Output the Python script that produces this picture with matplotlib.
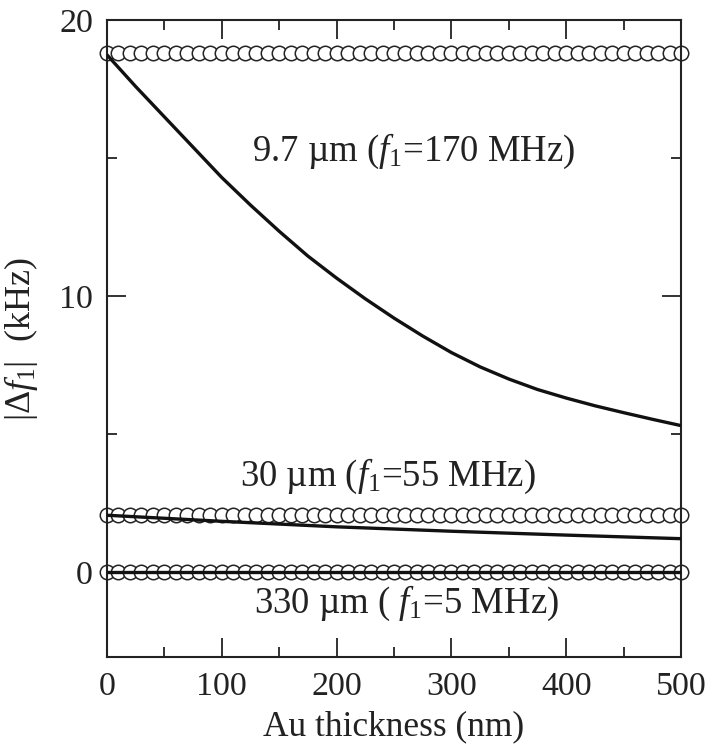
import numpy as np
import matplotlib
matplotlib.use("Agg")
import matplotlib.pyplot as plt
from matplotlib.ticker import MultipleLocator

plt.rcParams['font.family'] = ['Liberation Serif', 'DejaVu Serif']
plt.rcParams['mathtext.fontset'] = 'custom'
plt.rcParams['mathtext.rm'] = 'Liberation Serif'
plt.rcParams['mathtext.it'] = 'Liberation Serif:italic'

# Data
marker_x = np.arange(0, 501, 10)
level_97 = 18.8
level_30 = 2.07
level_330 = 0.0

curve97_x = [0, 25, 50, 75, 100, 125, 150, 175, 200, 225, 250, 275, 300, 325, 350, 375, 400, 425, 450, 475, 500]
curve97_y = [18.75, 17.6, 16.5, 15.4, 14.3, 13.3, 12.35, 11.45, 10.65, 9.9, 9.2, 8.55, 7.95, 7.43, 6.99, 6.61, 6.3, 6.02, 5.77, 5.53, 5.3]

curve30_x = [0, 100, 200, 300, 400, 500]
curve30_y = [2.05, 1.83, 1.63, 1.47, 1.33, 1.2]

curve330_x = [0, 500]
curve330_y = [0.0, 0.0]

labels = [
    (r"9.7 µm ($f_{\mathrm{1}}$=170 MHz)", 126, 15.25),
    (r"30 µm ($f_{\mathrm{1}}$=55 MHz)", 116, 3.45),
    (r"330 µm ( $f_{\mathrm{1}}$=5 MHz)", 128, -1.15),
]

fig = plt.figure(figsize=(7.08, 7.52), dpi=100)
ax = fig.add_axes([0.151, 0.126, 0.811, 0.847])

mk = dict(marker='o', markersize=10.4, markerfacecolor='white', markeredgecolor='#222222',
          markeredgewidth=1.1, linestyle='none', zorder=2, clip_on=False)
for lvl in (level_97, level_30, level_330):
    ax.plot(marker_x, np.full(marker_x.shape, lvl), **mk)

ax.plot(curve97_x, curve97_y, color='#111111', lw=2.4, zorder=3, solid_capstyle='butt')
ax.plot(curve30_x, curve30_y, color='#111111', lw=2.4, zorder=3, solid_capstyle='butt')
ax.plot(curve330_x, curve330_y, color='#111111', lw=2.4, zorder=3, solid_capstyle='butt')

for txt, x, y in labels:
    ax.text(x, y, txt, fontsize=26.5, ha='left', va='center', color='#222222')

ax.set_xlim(0, 500)
ax.set_ylim(-3.1, 20)
ax.xaxis.set_major_locator(MultipleLocator(100))
ax.xaxis.set_minor_locator(MultipleLocator(50))
ax.yaxis.set_major_locator(MultipleLocator(10))
ax.yaxis.set_minor_locator(MultipleLocator(5))
ax.tick_params(which='both', direction='in', top=True, right=True, width=1.3, color='#222222',
               labelsize=24.5, labelcolor='#222222')
ax.tick_params(which='major', length=14, pad=10)
ax.tick_params(which='minor', length=7)
for s in ax.spines.values():
    s.set_linewidth(1.5)
    s.set_color('#222222')

ax.set_xlabel("Au thickness (nm)", fontsize=25.5, color='#222222', labelpad=6)
ax.set_ylabel(r"$|\Delta f_{\mathrm{1}}|$  (kHz)", fontsize=26, color='#222222', labelpad=14)

fig.savefig("out.png", dpi=100)
